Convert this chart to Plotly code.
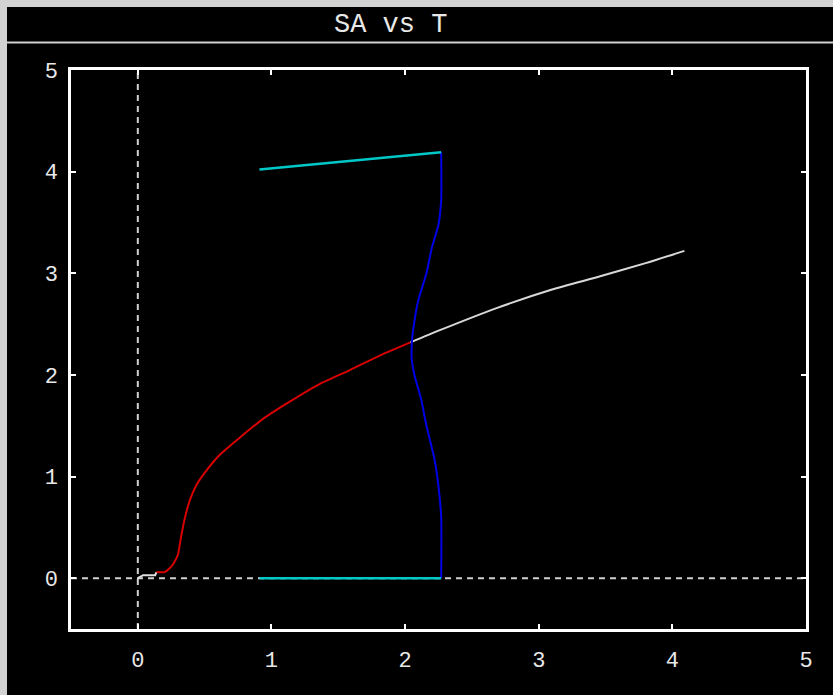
import plotly.graph_objects as go

# Figure size and plot-area margins (pixels)
W, H = 833, 695
ML, MR, MT, MB = 71, 27, 70, 66
PW, PH = W - ML - MR, H - MT - MB

# Curve data
red_x = [0.14, 0.20, 0.24, 0.27, 0.30, 0.32, 0.35, 0.39, 0.44, 0.52, 0.61, 0.76, 0.95, 1.14, 1.36, 1.59, 1.81, 2.04]
red_y = [0.06, 0.06, 0.10, 0.15, 0.23, 0.38, 0.58, 0.77, 0.92, 1.07, 1.21, 1.38, 1.58, 1.74, 1.91, 2.05, 2.19, 2.32]

start_x = [0.00, 0.04, 0.13, 0.14]
start_y = [0.00, 0.03, 0.03, 0.06]

white_x = [2.04, 2.26, 2.69, 3.10, 3.46, 3.80, 4.09]
white_y = [2.32, 2.44, 2.66, 2.84, 2.97, 3.10, 3.22]

blue_x = [2.27, 2.27, 2.25, 2.20, 2.16, 2.10, 2.06, 2.05, 2.05, 2.07, 2.12, 2.16, 2.22, 2.25, 2.27, 2.27]
blue_y = [4.19, 3.72, 3.48, 3.25, 3.00, 2.74, 2.44, 2.30, 2.15, 2.00, 1.76, 1.50, 1.17, 0.90, 0.60, 0.00]

cyan_top_x = [0.91, 2.27]
cyan_top_y = [4.02, 4.19]
cyan_bot_x = [0.91, 2.27]
cyan_bot_y = [0.00, 0.00]

x_ticks = [0, 1, 2, 3, 4, 5]
y_ticks = [0, 1, 2, 3, 4, 5]
x_range = [-0.5, 5.0]
y_range = [-0.5, 5.0]

title_text = "SA vs T"

FG = "#e8e8e8"
FONT = "Liberation Mono"


def px(x):
    return (x - ML) / PW


def py(y):
    return (H - MB - y) / PH


fig = go.Figure()

fig.add_trace(go.Scatter(x=start_x, y=start_y, mode="lines",
                         line=dict(color="#e0e0e0", width=2)))
fig.add_trace(go.Scatter(x=red_x, y=red_y, mode="lines",
                         line=dict(color="#d80000", width=2, shape="spline", smoothing=0.6)))
fig.add_trace(go.Scatter(x=white_x, y=white_y, mode="lines",
                         line=dict(color="#d8d8d8", width=2, shape="spline", smoothing=0.6)))
fig.add_trace(go.Scatter(x=blue_x, y=blue_y, mode="lines",
                         line=dict(color="#0000e6", width=2, shape="spline", smoothing=0.6)))
fig.add_trace(go.Scatter(x=cyan_top_x, y=cyan_top_y, mode="lines",
                         line=dict(color="#00c8c8", width=2.5)))
fig.add_trace(go.Scatter(x=cyan_bot_x, y=cyan_bot_y, mode="lines",
                         line=dict(color="#00c8c8", width=2.5)))

shapes = [
    # black canvas inside the grey frame
    dict(type="rect", xref="paper", yref="paper",
         x0=px(7), x1=px(W + 5), y0=py(7), y1=py(H + 5),
         fillcolor="black", line=dict(width=0), layer="below"),
    # rule under the title
    dict(type="line", xref="paper", yref="paper",
         x0=px(7), x1=px(W + 5), y0=py(42.5), y1=py(42.5),
         line=dict(color="#d0d0d0", width=2), layer="below"),
    # dashed zero axes
    dict(type="line", xref="x", yref="y", x0=0, x1=0, y0=y_range[0], y1=y_range[1],
         line=dict(color="#d0d0d0", width=2, dash="6px,5px"), layer="below"),
    dict(type="line", xref="x", yref="y", x0=x_range[0], x1=x_range[1], y0=0, y1=0,
         line=dict(color="#d0d0d0", width=2, dash="6px,5px"), layer="below"),
]

axis_common = dict(
    showgrid=False, zeroline=False, showline=True, linecolor="white", linewidth=2.5,
    mirror="allticks", ticks="inside", ticklen=5, tickwidth=2, tickcolor="white",
    tickfont=dict(family=FONT, size=22, color=FG),
)

fig.update_layout(
    width=W, height=H,
    margin=dict(l=ML, r=MR, t=MT, b=MB, pad=0),
    paper_bgcolor="#d2d2d2",
    plot_bgcolor="black",
    showlegend=False,
    shapes=shapes,
    xaxis=dict(range=x_range, tickvals=x_ticks, ticktext=[str(v) for v in x_ticks],
               ticklabelstandoff=9, **axis_common),
    yaxis=dict(range=y_range, tickvals=y_ticks, ticktext=[str(v) for v in y_ticks],
               ticklabelstandoff=6, **axis_common),
    annotations=[dict(text=title_text, xref="paper", yref="paper",
                      x=px(390), y=py(25), xanchor="center", yanchor="middle",
                      showarrow=False, font=dict(family=FONT, size=27, color=FG))],
)

fig.write_html("out.html")
